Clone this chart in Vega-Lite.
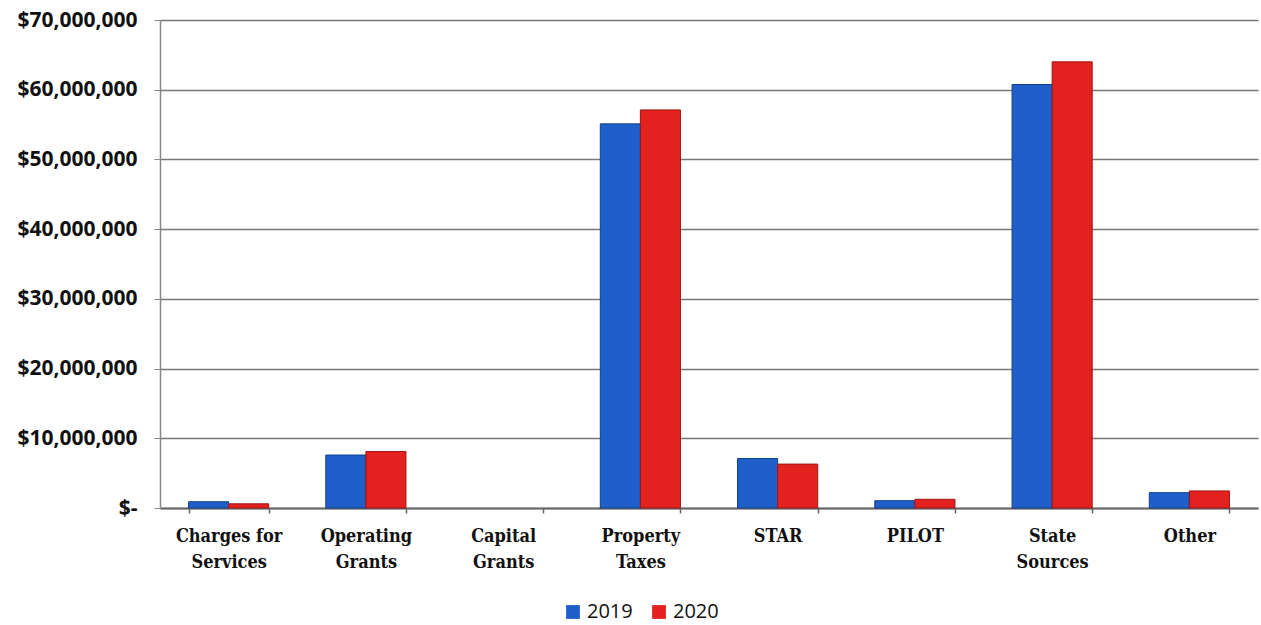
{
  "$schema": "https://vega.github.io/schema/vega-lite/v6.json",
  "width": 1098,
  "height": 488,
  "autosize": "none",
  "padding": {"left": 160, "top": 20, "right": 3, "bottom": 117},
  "background": "white",
  "data": {
    "values": [
      {"category": "Charges for Services", "year": "2019", "amount": 900000},
      {"category": "Charges for Services", "year": "2020", "amount": 600000},
      {"category": "Operating Grants", "year": "2019", "amount": 7600000},
      {"category": "Operating Grants", "year": "2020", "amount": 8100000},
      {"category": "Capital Grants", "year": "2019", "amount": 0},
      {"category": "Capital Grants", "year": "2020", "amount": 0},
      {"category": "Property Taxes", "year": "2019", "amount": 55100000},
      {"category": "Property Taxes", "year": "2020", "amount": 57100000},
      {"category": "STAR", "year": "2019", "amount": 7100000},
      {"category": "STAR", "year": "2020", "amount": 6300000},
      {"category": "PILOT", "year": "2019", "amount": 1050000},
      {"category": "PILOT", "year": "2020", "amount": 1250000},
      {"category": "State Sources", "year": "2019", "amount": 60750000},
      {"category": "State Sources", "year": "2020", "amount": 64000000},
      {"category": "Other", "year": "2019", "amount": 2200000},
      {"category": "Other", "year": "2020", "amount": 2450000}
    ]
  },
  "mark": {"type": "bar", "strokeWidth": 1},
  "encoding": {
    "x": {
      "field": "category",
      "type": "nominal",
      "sort": null,
      "title": null,
      "scale": {"paddingInner": 0.416, "paddingOuter": 0.208},
      "axis": {
        "labelAngle": 0,
        "labelFont": "DejaVu Serif Condensed",
        "labelFontWeight": "bold",
        "labelFontSize": 18,
        "labelColor": "#111",
        "labelLineHeight": 26,
        "labelPadding": 14,
        "labelExpr": "datum.label == 'Charges for Services' ? ['Charges for', 'Services'] : split(datum.label, ' ')",
        "domainColor": "#666",
        "domainWidth": 2,
        "ticks": true,
        "tickBand": "extent",
        "tickColor": "#666",
        "tickSize": 5,
        "tickWidth": 1.5
      }
    },
    "xOffset": {"field": "year", "type": "nominal"},
    "y": {
      "field": "amount",
      "type": "quantitative",
      "title": null,
      "scale": {"domain": [0, 70000000]},
      "axis": {
        "values": [0, 10000000, 20000000, 30000000, 40000000, 50000000, 60000000, 70000000],
        "labelExpr": "datum.value == 0 ? '$-' : format(datum.value, '$,.0f')",
        "labelFont": "Open Sans",
        "labelFontWeight": "bold",
        "labelFontSize": 21,
        "labelColor": "#111",
        "labelPadding": 17,
        "grid": true,
        "gridColor": "#777",
        "gridWidth": 1.5,
        "domainColor": "#888",
        "domainWidth": 1.5,
        "tickColor": "#888",
        "tickSize": 6
      }
    },
    "color": {
      "field": "year",
      "type": "nominal",
      "scale": {"domain": ["2019", "2020"], "range": ["#1f5fc9", "#e3221f"]},
      "legend": {
        "title": null,
        "orient": "none",
        "legendX": 403,
        "legendY": 582,
        "direction": "horizontal",
        "symbolType": "square",
        "symbolSize": 190,
        "symbolStrokeWidth": 0,
        "labelFont": "Open Sans",
        "labelFontSize": 20,
        "labelColor": "#111",
        "labelOffset": 4,
        "columnPadding": 16
      }
    },
    "stroke": {
      "condition": {"test": "datum.amount == 0", "value": null},
      "field": "year",
      "type": "nominal",
      "scale": {"domain": ["2019", "2020"], "range": ["#123f8f", "#9e1414"]},
      "legend": null
    }
  },
  "config": {"view": {"stroke": null}}
}
